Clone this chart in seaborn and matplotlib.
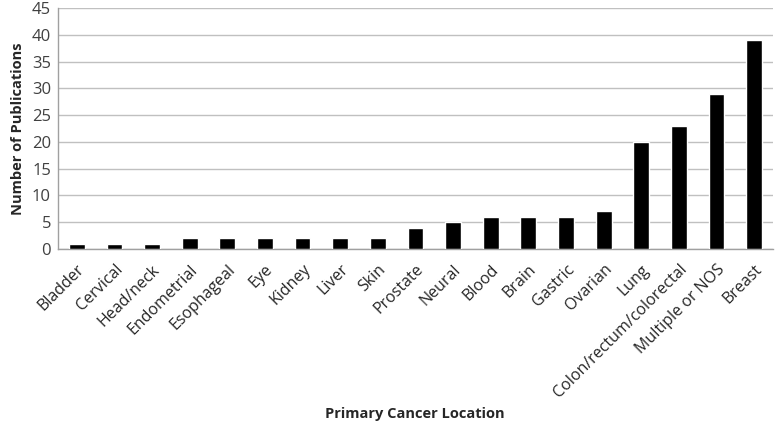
import numpy as np
import pandas as pd
import matplotlib
matplotlib.use('Agg')
import matplotlib.pyplot as plt
import seaborn as sns

# dados do grafico
locais = ['Bladder', 'Cervical', 'Head/neck', 'Endometrial', 'Esophageal', 'Eye',
          'Kidney', 'Liver', 'Skin', 'Prostate', 'Neural', 'Blood', 'Brain',
          'Gastric', 'Ovarian', 'Lung', 'Colon/rectum/colorectal',
          'Multiple or NOS', 'Breast']
publicacoes = [1, 1, 1, 2, 2, 2, 2, 2, 2, 4, 5, 6, 6, 6, 7, 20, 23, 29, 39]
y_ticks = [0, 5, 10, 15, 20, 25, 30, 35, 40, 45]

df = pd.DataFrame({'local': locais, 'n': publicacoes})

sns.set_style('white')
plt.rcParams['font.family'] = ['Open Sans', 'DejaVu Sans']

fig = plt.figure(figsize=(7.75, 4.3), dpi=100)
ax = fig.add_axes([0.0748, 0.421, 0.9226, 0.5605])

sns.barplot(data=df, x='local', y='n', color='black', width=0.42,
            saturation=1, ax=ax, zorder=3)

ax.set_ylim(0, 45)
ax.set_xlim(-0.5, len(locais) - 0.5)
ax.set_yticks(y_ticks)
ax.set_yticklabels([str(v) for v in y_ticks], fontsize=12, color='#404040')
ax.yaxis.grid(True, color='#c0c0c0', linewidth=1, zorder=0)
ax.tick_params(axis='y', length=0, pad=5)

ax.set_xticks(range(len(locais)))
ax.set_xticklabels(locais, rotation=45, ha='right', rotation_mode='anchor',
                   fontsize=11.5, color='#262626')
ax.set_xticks(np.arange(len(locais) + 1) - 0.5, minor=True)
ax.tick_params(axis='x', which='major', length=0, pad=9)
ax.tick_params(axis='x', which='minor', length=5, color='#a0a0a0', width=1)

for s in ['top', 'right']:
    ax.spines[s].set_visible(False)
for s in ['left', 'bottom']:
    ax.spines[s].set_color('#a0a0a0')
    ax.spines[s].set_linewidth(1)

ax.set_ylabel('Number of Publications', fontsize=10.5, fontweight='bold', labelpad=5)
ax.set_xlabel('')
fig.text(0.535, 0.027, 'Primary Cancer Location', fontsize=10.5, fontweight='bold',
         ha='center', va='baseline')

fig.savefig('out.png', dpi=100)
